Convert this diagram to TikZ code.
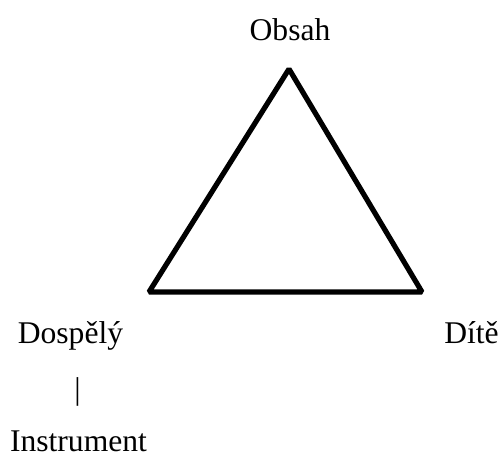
\documentclass[tikz,border=0pt]{standalone}
\usepackage{fontspec}
\setmainfont{Liberation Serif}
\usepackage{tikz}
\usetikzlibrary{positioning}

\begin{document}
\begin{tikzpicture}[
    x=0.5pt, y=-0.5pt,
    font=\fontsize{15.8}{19}\selectfont,
    word/.style={inner sep=0pt, anchor=base},
    side/.style={line width=2.6pt, line join=bevel}
]
\useasboundingbox (0,0) rectangle (501,455);

% corners of the triangle
\coordinate (top) at (289,69);
\coordinate (left) at (149,292);
\coordinate (right) at (422,292);
\draw[side] (left) -- (top) -- (right) -- cycle;

\node[word] (obsah) at (290,40) {Obsah};
\node[word] (dospely) at (70.5,343) {Dospělý};
\node[word] (dite) at (471.5,343) {Dítě};
\node[word] (bar) at (77.5,399) {|};
\node[word] (instrument) at (78.5,451.5) {Instrument};
\end{tikzpicture}
\end{document}
